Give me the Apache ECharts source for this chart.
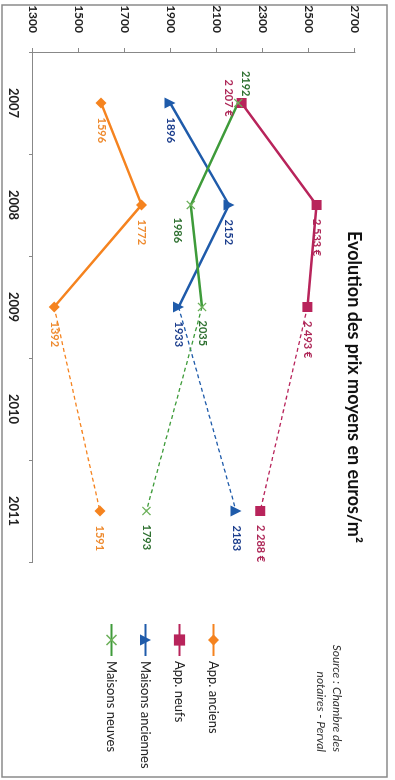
<!DOCTYPE html>
<html>
<head>
<meta charset="utf-8">
<script src="https://cdn.jsdelivr.net/npm/echarts@6/dist/echarts.min.js"></script>
<style>
  html, body { margin: 0; padding: 0; background: #fff; overflow: hidden; width: 395px; height: 780px; }
  #chart { position: absolute; left: 0; top: 0; width: 780px; height: 395px;
           transform-origin: 0 0; transform: translate(395px, 0) rotate(90deg); }
</style>
</head>
<body>
<div id="chart"></div>
<script>
// ---- Data ----
const years = ['2007', '2008', '2009', '2010', '2011'];
const appAnciens = [1596, 1772, 1392, null, 1591];
const appNeufs = [2207, 2533, 2493, null, 2288];
const maisonsAnciennes = [1896, 2152, 1933, null, 2183];
const maisonsNeuves = [2192, 1986, 2035, null, 1793];
const seriesNames = ['App. anciens', 'App. neufs', 'Maisons anciennes', 'Maisons neuves'];
const valueMin = 1300, valueMax = 2700, valueStep = 200;
const titleText = 'Evolution des prix moyens en euros/m²';
const sourceLines = ['Source : Chambre des', 'notaires - Perval'];

const FONT = 'Lato, "Open Sans", sans-serif';
const X_SYMBOL = 'path://M0,1L1,0L5,4L9,0L10,1L6,5L10,9L9,10L5,6L1,10L0,9L4,5Z';

function euro(v) {
  return String(v).replace(/\B(?=(\d{3})+(?!\d))/g, ' ') + ' €';
}

const styles = [
  { data: appAnciens, color: '#F5831F', label: '#EE8A2E', symbol: 'diamond', size: 11, fmt: v => String(v), symColor: '#F5831F' },
  { data: appNeufs, color: '#B8245B', label: '#AE2858', symbol: 'rect', size: 10, fmt: euro, symColor: '#B8245B' },
  { data: maisonsAnciennes, color: '#1F5BAA', label: '#1B3D8C', symbol: 'triangle', size: 11, fmt: v => String(v), symColor: '#1F5BAA' },
  { data: maisonsNeuves, color: '#3E9B3A', label: '#2E7030', symbol: X_SYMBOL, size: 9, fmt: v => String(v), symColor: '#6CB05A' }
];

// per-point label tweaks [seriesIndex][pointIndex]
const labelTweaks = {
  '1-0': { position: 'bottom', distance: 3, offset: [-5, 0] },
  '3-0': { position: 'left', distance: 2, offset: [0, -7] },
  '3-1': { position: 'right', distance: 8, offset: [0, 13] }
};

const series = [];
styles.forEach((s, si) => {
  const baseLabel = {
    show: true, position: 'right', distance: 9,
    color: s.label, fontFamily: FONT, fontWeight: 'bold', fontSize: 11,
    formatter: p => s.fmt(p.value)
  };
  const solid = s.data.map((v, i) => {
    if (i > 2 || v == null) return null;
    const tw = labelTweaks[si + '-' + i];
    return tw ? { value: v, label: tw } : v;
  });
  const dashed = s.data.map((v, i) => {
    if (i < 2 || v == null) return null;
    if (i === 2) return { value: v, symbol: 'none', label: { show: false } };
    return v;
  });
  series.push({
    name: seriesNames[si], type: 'line', data: solid,
    symbol: s.symbol, symbolSize: s.size,
    itemStyle: { color: s.symColor, borderWidth: 0 },
    lineStyle: { color: s.color, width: 2.5 },
    label: baseLabel, z: 3
  });
  series.push({
    name: seriesNames[si], type: 'line', data: dashed, connectNulls: true,
    symbol: s.symbol, symbolSize: s.size,
    itemStyle: { color: s.symColor, borderWidth: 0 },
    lineStyle: { color: s.color, width: 1.3, type: [4, 3] },
    label: baseLabel, z: 2
  });
});

const chart = echarts.init(document.getElementById('chart'), null, { width: 780, height: 395 });
chart.setOption({
  animation: false,
  backgroundColor: '#fff',
  title: {
    text: titleText, left: 226, top: 27,
    textStyle: { fontFamily: FONT, fontWeight: 'bold', fontSize: 18, color: '#111' }
  },
  legend: {
    data: seriesNames, orient: 'vertical', left: 618, top: 170,
    itemWidth: 32, itemHeight: 14, itemGap: 21,
    textStyle: { fontFamily: FONT, fontSize: 13, color: '#222' }
  },
  grid: { left: 52, right: 218, top: 40, bottom: 33 },
  xAxis: {
    type: 'category', data: years, boundaryGap: true,
    axisLine: { lineStyle: { color: '#888', width: 1 } },
    axisTick: { show: true, length: 4, lineStyle: { color: '#888' } },
    axisLabel: { margin: 13, fontFamily: FONT, fontWeight: 'bold', fontSize: 13, color: '#222' }
  },
  yAxis: {
    type: 'value', min: valueMin, max: valueMax, interval: valueStep,
    splitLine: { show: false },
    axisLine: { show: true, lineStyle: { color: '#888', width: 1 } },
    axisTick: { show: true, length: 4, lineStyle: { color: '#888' } },
    axisLabel: { margin: 19, fontFamily: FONT, fontWeight: 'bold', fontSize: 12, color: '#222',
                 formatter: v => String(v) }
  },
  graphic: [
    { type: 'rect', shape: { x: 5, y: 8, width: 772, height: 385 },
      style: { fill: 'none', stroke: '#8a8a8a', lineWidth: 1.5 }, silent: true },
    { type: 'text', right: 28, top: 50,
      style: { text: sourceLines.join('\n'), textAlign: 'right', fill: '#333',
               font: 'italic 12px ' + FONT, lineHeight: 16 } }
  ],
  series: series
});
</script>
</body>
</html>
